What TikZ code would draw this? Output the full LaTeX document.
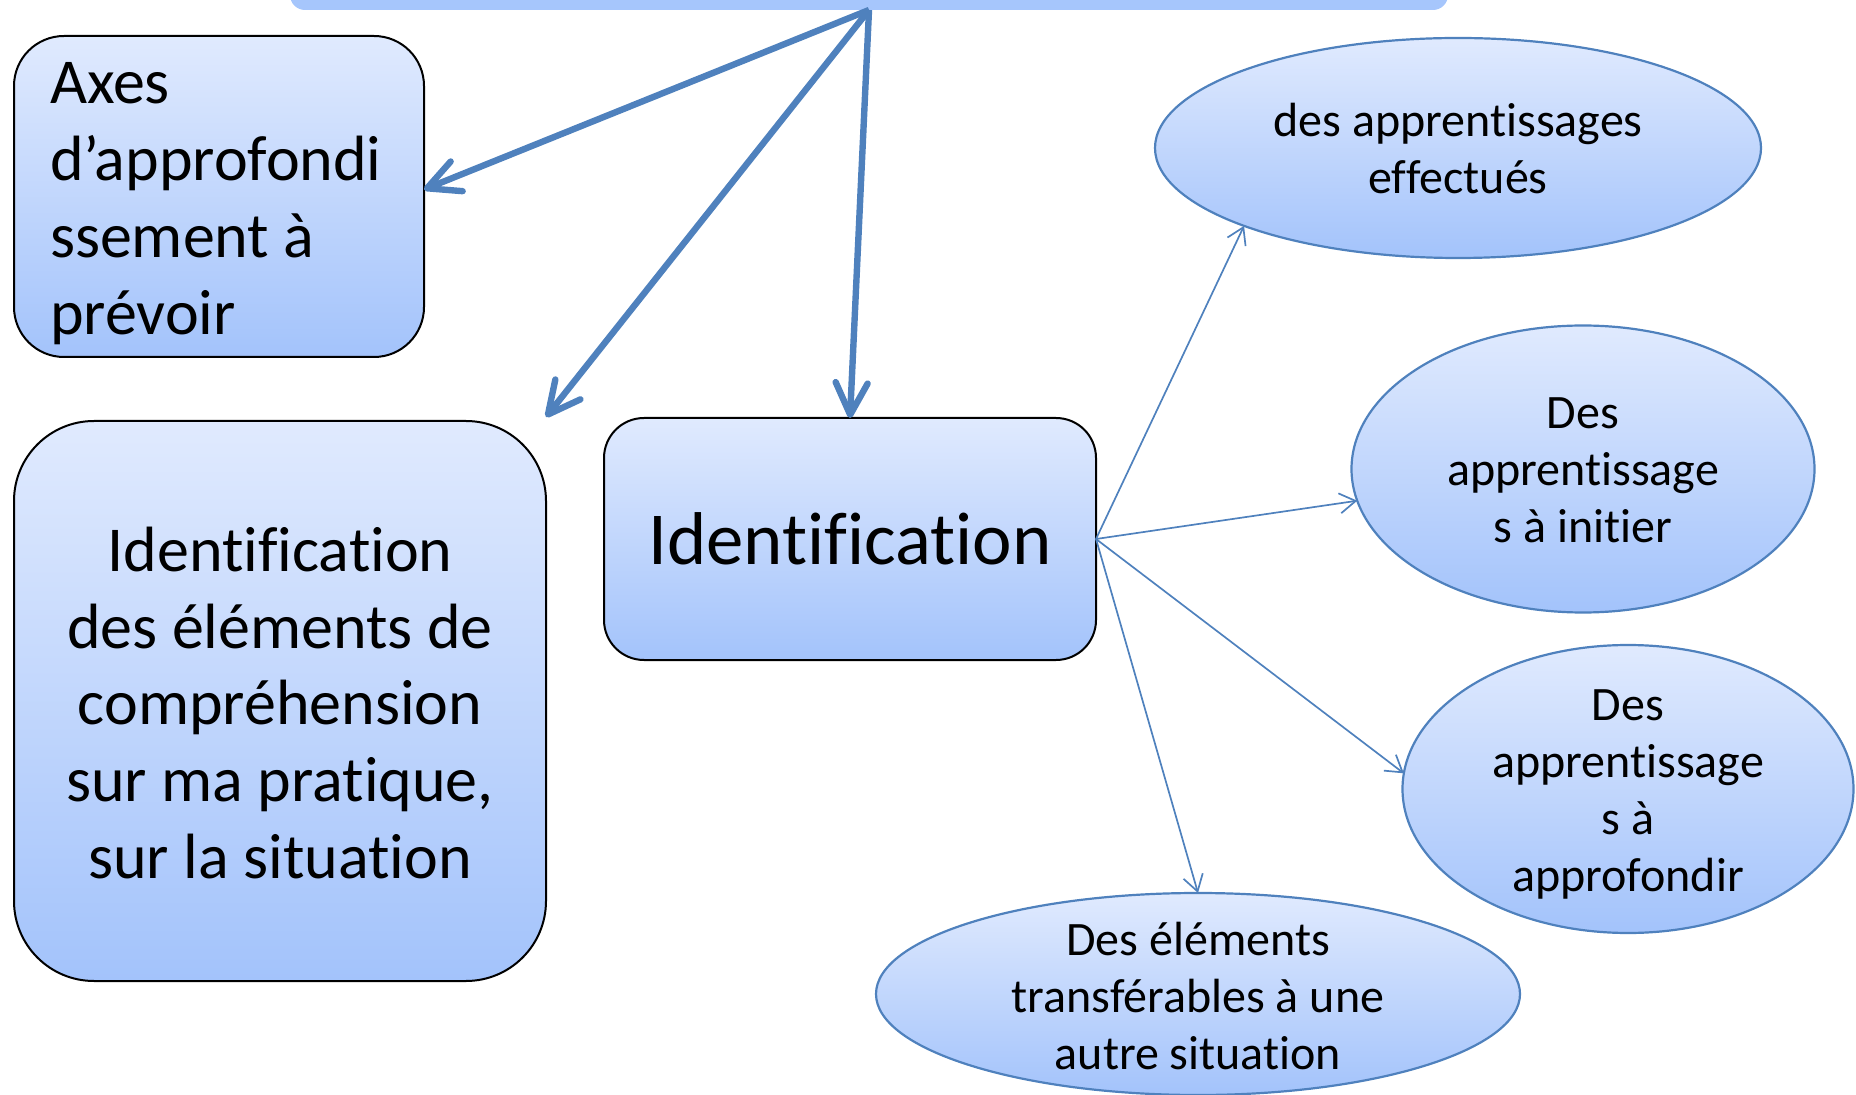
\documentclass[tikz,border=0pt]{standalone}
\usepackage{fontspec}
\setmainfont{Carlito}[Ligatures={NoCommon,NoRare,NoContextual}]
\usetikzlibrary{arrows.meta,shapes.geometric}
\definecolor{gtop}{RGB}{224,234,254}
\definecolor{gbot}{RGB}{163,195,251}
\definecolor{barcol}{RGB}{166,198,252}
\definecolor{acc}{RGB}{79,129,189}
\newcommand{\lifttop}[2]{\raisebox{0pt}[\dimexpr\height+#1\relax]{#2}}
\begin{document}
\begin{tikzpicture}[x=0.5pt,y=-0.5pt,
  every node/.style={outer sep=0pt, inner sep=0pt},
  rbox/.style={rectangle, draw=black, line width=1pt, top color=gtop, bottom color=gbot},
  ell/.style={ellipse, draw=acc, line width=1.1pt, top color=gtop, bottom color=gbot},
  bigtxt/.style={font=\fontsize{32}{38.4}\selectfont},
  elltxt/.style={align=center, font=\fontsize{24}{28.5}\selectfont},
  heavyarrow/.style={draw=acc, line width=3.2pt, -{Straight Barb[length=16pt,width=16pt,round]}},
  lightarrow/.style={draw=acc, line width=0.85pt, -{Straight Barb[length=8pt,width=10pt]}}
]
\useasboundingbox (0,0) rectangle (1856,1095);
\clip (0,0) rectangle (1856,1095);

% top bar (cut by the picture edge)
\node[rectangle, fill=barcol, rounded corners=7.5pt, minimum width=579pt, minimum height=35pt] (bar) at (869,-25) {};

% boxes
\node[rbox, rounded corners=25pt, minimum width=205pt, minimum height=160.5pt,
      text width=169pt, align=flush left, bigtxt] (axes) at (219,196.5)
      {\lifttop{7pt}{Axes}\\d’approfondi\\ssement à\\prévoir};
\node[rbox, rounded corners=40pt, minimum width=266pt, minimum height=280pt,
      text width=250pt, align=flush center, bigtxt] (big) at (280,701)
      {\lifttop{2pt}{Identification}\\des éléments de\\compréhension\\sur ma pratique,\\sur la situation};
\node[rbox, rounded corners=20pt, minimum width=246pt, minimum height=121pt,
      font=\fontsize{37.4}{44}\selectfont] (ident) at (850,539) {Identification};

% ellipses
\node[ell, minimum width=303pt, minimum height=110pt] (e1) at (1458,148) {};
\node[ell, minimum width=231.5pt, minimum height=143.5pt] (e2) at (1583,469) {};
\node[ell, minimum width=225.5pt, minimum height=144pt] (e3) at (1628,789) {};
\node[ell, minimum width=322pt, minimum height=101pt] (e4) at (1198,994) {};

\node[elltxt, yshift=-0.5pt] (e1t) at (e1) {des apprentissages\\effectués};
\node[elltxt, yshift=-0.5pt] (e2t) at (e2) {Des\\apprentissage\\s à initier};
\node[elltxt, yshift=-2.7pt] (e3t) at (e3) {Des\\apprentissage\\s à\\approfondir};
\node[elltxt, yshift=-1pt] (e4t) at (e4) {Des éléments\\transférables à une\\autre situation};

% connectors
\draw[heavyarrow] (bar.south) -- ([yshift=3.5pt]axes.east);
\draw[heavyarrow] (bar.south) -- ([yshift=2pt]big.north east);
\draw[heavyarrow] (bar.south) -- (ident.north);

\draw[lightarrow] (ident.east) -- (e1.200);
\draw[lightarrow] (ident.east) -- (e2.188);
\draw[lightarrow] (ident.east) -- (e3.176);
\draw[lightarrow] (ident.east) -- (e4.north);
\end{tikzpicture}
\end{document}
